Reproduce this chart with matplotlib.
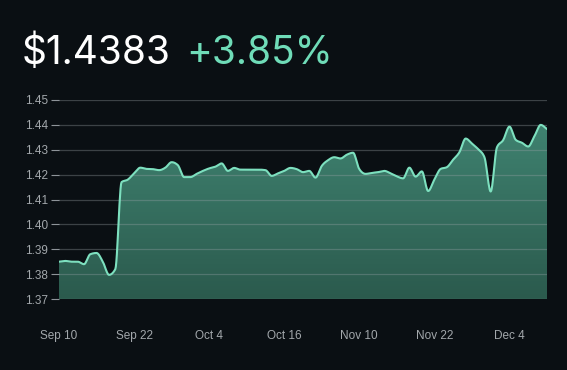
import numpy as np
import matplotlib
matplotlib.use("Agg")
import matplotlib.pyplot as plt
from matplotlib.colors import LinearSegmentedColormap

price = "$1.4383"
change = "+3.85%"
tick_labels = ["Sep 10", "Sep 22", "Oct 4", "Oct 16", "Nov 10", "Nov 22", "Dec 4"]
values = [
    1.3850, 1.3853, 1.3850, 1.3850, 1.3840, 1.3880, 1.3885, 1.3850, 1.3797, 1.3820,
    1.4170, 1.4180, 1.4205, 1.4228, 1.4223, 1.4222, 1.4218, 1.4228, 1.4250, 1.4238,
    1.4190, 1.4190, 1.4203, 1.4215, 1.4225, 1.4232, 1.4245, 1.4215, 1.4227, 1.4220,
    1.4220, 1.4220, 1.4220, 1.4218, 1.4195, 1.4205, 1.4215, 1.4227, 1.4222, 1.4210,
    1.4215, 1.4188, 1.4235, 1.4258, 1.4270, 1.4265, 1.4280, 1.4288, 1.4222, 1.4203,
    1.4207, 1.4210, 1.4215, 1.4205, 1.4193, 1.4185, 1.4228, 1.4192, 1.4213, 1.4134,
    1.4180, 1.4223, 1.4230, 1.4260, 1.4290, 1.4345, 1.4325, 1.4302, 1.4270, 1.4132,
    1.4310, 1.4339, 1.4393, 1.4340, 1.4328, 1.4313, 1.4355, 1.4400, 1.4383,
]
y_ticks = [1.37, 1.38, 1.39, 1.40, 1.41, 1.42, 1.43, 1.44, 1.45]

BG = "#0a0f13"
LINE = "#7de0bf"
GREEN = "#6fdcb8"


def monotone(x, y, per=12):
    # monotone cubic curve, like d3 curveMonotoneX
    x = np.asarray(x, float)
    y = np.asarray(y, float)
    h = np.diff(x)
    s = np.diff(y) / h
    m = np.zeros_like(y)
    for i in range(1, len(y) - 1):
        if s[i - 1] * s[i] <= 0:
            m[i] = 0
        else:
            p = (s[i - 1] * h[i] + s[i] * h[i - 1]) / (h[i - 1] + h[i])
            m[i] = np.sign(s[i - 1]) * min(abs(s[i - 1]), abs(s[i]), 0.5 * abs(p)) * 2
    m[0] = s[0]
    m[-1] = s[-1]
    xs, ys = [], []
    for i in range(len(h)):
        t = np.linspace(0, 1, per, endpoint=False)
        h00 = 2 * t**3 - 3 * t**2 + 1
        h10 = t**3 - 2 * t**2 + t
        h01 = -2 * t**3 + 3 * t**2
        h11 = t**3 - t**2
        xs.append(x[i] + t * h[i])
        ys.append(h00 * y[i] + h10 * h[i] * m[i] + h01 * y[i + 1] + h11 * h[i] * m[i + 1])
    xs.append([x[-1]])
    ys.append([y[-1]])
    return np.concatenate(xs), np.concatenate(ys)


x = np.arange(len(values))
xs, ys = monotone(x, values)

fig = plt.figure(figsize=(5.67, 3.70), dpi=100, facecolor=BG)
ax = fig.add_axes([59 / 567, 1 - 299 / 370, 488 / 567, 199 / 370])
ax.set_facecolor(BG)
ax.set_xlim(0, len(values) - 1)
ax.set_ylim(1.37, 1.45)

# gradient area
poly = ax.fill_between(xs, ys, 1.37, color="none", lw=0)
cmap = LinearSegmentedColormap.from_list("g", ["#2b5a4d", "#3f8270"])
grad = np.linspace(0, 1, 256).reshape(-1, 1)
img = ax.imshow(grad, cmap=cmap, origin="lower", aspect="auto",
                extent=[0, len(values) - 1, 1.37, 1.44], zorder=1)
img.set_clip_path(poly.get_paths()[0], transform=ax.transData)

for v in y_ticks:
    ax.axhline(v, color="#9aa3a8", alpha=0.35, lw=0.9, zorder=2)
ax.plot(xs, ys, color=LINE, lw=1.5, zorder=3, solid_capstyle="round")

for sp in ax.spines.values():
    sp.set_visible(False)
ax.set_yticks(y_ticks)
ax.set_yticklabels([f"{v:.2f}" for v in y_ticks])
ax.set_xticks(np.arange(len(tick_labels)) * 12)
ax.set_xticklabels(tick_labels)
ax.tick_params(axis="y", colors="#8e9499", labelcolor="#a3a8ac", length=6, width=0.8,
               pad=2, labelsize=8.5)
ax.tick_params(axis="x", length=0, pad=22, labelcolor="#a3a8ac", labelsize=8.5)
for lab in ax.get_xticklabels() + ax.get_yticklabels():
    lab.set_family("Liberation Sans")

fig.text(22 / 567, 1 - 53 / 370, price, color="white", fontsize=28,
         family="Inter", va="center", ha="left")
fig.text(186 / 567, 1 - 53 / 370, change, color=GREEN, fontsize=28,
         family="Inter", va="center", ha="left")

fig.savefig("out.png", dpi=100, facecolor=BG)
